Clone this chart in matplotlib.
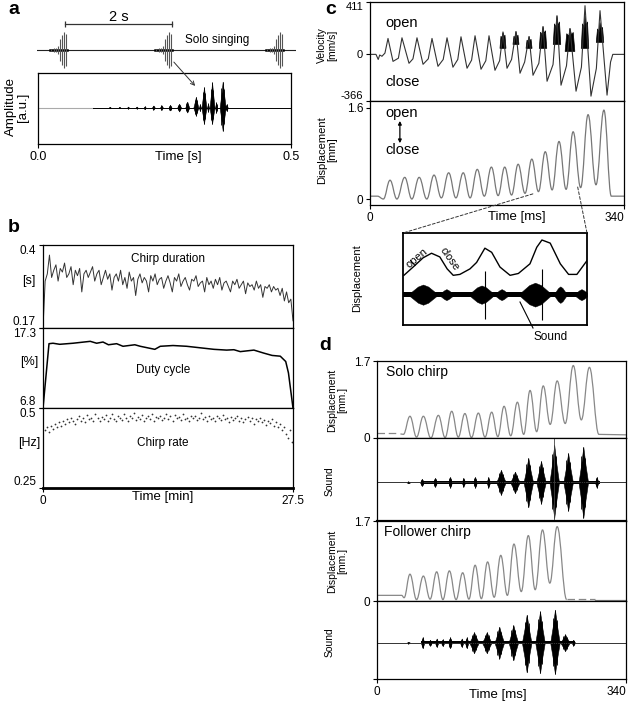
import numpy as np
import matplotlib
matplotlib.use('Agg')
import matplotlib.pyplot as plt
from matplotlib.path import Path
from matplotlib.patches import PathPatch, ConnectionPatch, FancyArrowPatch
from matplotlib.lines import Line2D

plt.rcParams['font.family'] = ['Liberation Sans', 'DejaVu Sans']
plt.rcParams['axes.linewidth'] = 0.9

# ---------------- data ----------------
# a: solo singing (three chirps) and one chirp enlarged
song_onsets = [-0.28, 1.68, 3.74]                       # s
pulse_offsets = [0.02, 0.07, 0.11, 0.15, 0.18, 0.22, 0.26, 0.30]
pulse_heights = [0.05, 0.08, 0.12, 0.2, 0.55, 0.75, 0.9, 0.8]

amp_t = [0.142, 0.161, 0.178, 0.195, 0.211, 0.228, 0.244, 0.261, 0.279, 0.295,
         0.312, 0.320, 0.328, 0.336, 0.344, 0.352, 0.365, 0.373]
amp_up = [0.02, 0.02, 0.03, 0.03, 0.04, 0.06, 0.07, 0.08, 0.11, 0.17,
          0.31, 0.10, 0.59, 0.12, 0.73, 0.15, 0.75, 0.10]
amp_dn = [0.02, 0.02, 0.03, 0.03, 0.04, 0.06, 0.07, 0.08, 0.11, 0.14,
          0.23, 0.10, 0.47, 0.12, 0.47, 0.15, 0.67, 0.10]
amp_hw = [0.002, 0.002, 0.002, 0.002, 0.002, 0.003, 0.003, 0.003, 0.004, 0.004,
          0.005, 0.002, 0.005, 0.002, 0.005, 0.002, 0.006, 0.002]

# b: chirp duration [s], duty cycle [%], chirp rate [Hz] over 27.5 min
chirp_dur = [0.17, 0.30, 0.32, 0.372, 0.31, 0.33, 0.345, 0.30, 0.335, 0.325, 0.35, 0.31,
             0.32, 0.34, 0.29, 0.33, 0.315, 0.335, 0.27, 0.32, 0.33, 0.31, 0.325, 0.34,
             0.30, 0.32, 0.33, 0.29, 0.31, 0.33, 0.305, 0.32, 0.275, 0.31, 0.32, 0.30,
             0.33, 0.29, 0.31, 0.28, 0.325, 0.30, 0.31, 0.26, 0.305, 0.32, 0.295, 0.31,
             0.30, 0.27, 0.315, 0.30, 0.32, 0.29, 0.305, 0.31, 0.28, 0.30, 0.315, 0.295,
             0.27, 0.31, 0.30, 0.32, 0.285, 0.30, 0.31, 0.29, 0.275, 0.305, 0.30, 0.315,
             0.285, 0.295, 0.30, 0.27, 0.31, 0.29, 0.30, 0.28, 0.305, 0.29, 0.31, 0.275,
             0.295, 0.30, 0.285, 0.27, 0.30, 0.29, 0.305, 0.28, 0.29, 0.30, 0.265, 0.295,
             0.285, 0.29, 0.275, 0.30, 0.28, 0.29, 0.255, 0.285, 0.28, 0.29, 0.27, 0.285,
             0.275, 0.28, 0.26, 0.28, 0.245, 0.27, 0.24, 0.25, 0.19]
duty_t = [0, 0.66, 1.1, 1.84, 3.3, 5.2, 5.9, 6.6, 7.2, 8.1, 8.8, 10.1, 10.7, 12.3, 12.9,
          14.3, 15.8, 17.3, 18.8, 20.2, 21.0, 21.7, 23.2, 24.3, 25.2, 26.1, 26.7, 27.0, 27.5]
duty_v = [6.8, 15.24, 15.3, 15.16, 15.3, 15.55, 15.3, 15.46, 15.1, 15.24, 14.9, 15.1, 14.9,
          14.5, 14.9, 15.0, 14.9, 14.7, 14.5, 14.4, 14.45, 14.2, 14.4, 14.0, 13.7, 13.6,
          12.9, 11.4, 6.8]
chirp_rate = [0.43, 0.44, 0.425, 0.445, 0.435, 0.45, 0.44, 0.455, 0.445, 0.46, 0.45, 0.465,
              0.455, 0.47, 0.46, 0.45, 0.465, 0.475, 0.46, 0.47, 0.455, 0.478, 0.465, 0.47,
              0.46, 0.48, 0.468, 0.458, 0.472, 0.465, 0.478, 0.46, 0.47, 0.482, 0.465, 0.458,
              0.475, 0.468, 0.462, 0.48, 0.47, 0.46, 0.476, 0.468, 0.485, 0.462, 0.472, 0.466,
              0.478, 0.46, 0.47, 0.475, 0.465, 0.48, 0.458, 0.472, 0.468, 0.476, 0.462, 0.47,
              0.482, 0.466, 0.474, 0.46, 0.478, 0.468, 0.472, 0.462, 0.48, 0.466, 0.47, 0.458,
              0.476, 0.468, 0.474, 0.462, 0.47, 0.484, 0.465, 0.472, 0.46, 0.476, 0.466, 0.47,
              0.458, 0.474, 0.468, 0.462, 0.478, 0.466, 0.47, 0.456, 0.472, 0.464, 0.468, 0.476,
              0.46, 0.47, 0.455, 0.466, 0.472, 0.46, 0.468, 0.45, 0.465, 0.458, 0.47, 0.455,
              0.462, 0.448, 0.46, 0.452, 0.465, 0.445, 0.455, 0.44, 0.45, 0.43, 0.44, 0.42,
              0.405, 0.43, 0.395]

# c: tegmina velocity [mm/s] and displacement [mm] during one chirp (0-340 ms)
vel_t = [0, 8, 11, 13, 16, 20,
         24.1, 30.8, 38, 42.8, 52.2, 57.5, 62.9, 71.0, 78, 83.0, 91.0, 98, 103.1, 111.0, 117.5,
         121.8, 129.9, 136, 140.6, 148.6, 155, 159.3, 167.3, 173.5, 178.0, 183.4, 189.5,
         195.4, 200.8, 207, 212.9, 218.2, 226, 231.6, 237.0, 245, 250.3, 255.7, 263,
         267.7, 275.8, 283, 287.8, 295.8, 303, 307.9, 317.3, 322, 325, 340]
vel_v = [0, 0, -40, -5, -15, 10,
         125, -55, -30, 130, -70, -35, 130, -78, -35, 125, -94, -40, 130, -101, -40,
         138, -109, -45, 146, -117, -50, 146, -125, -50, 164, -109, -40,
         179, -148, -60, 140, -164, -70, 218, -211, -80, 304, -242, -90,
         203, -289, -100, 382, -328, -110, 343, -320, -60, 0, 0]
noise_t = [178.0, 195.4, 212.9, 231.6, 250.3, 267.7, 287.8, 307.9]
noise_lo = [47, 78, 47, 47, 78, 23, 47, 94]
noise_hi = [179, 179, 140, 218, 300, 203, 300, 250]
noise_w = [8, 8, 8, 10, 10, 13, 10, 10]

disp_t = [0, 10, 17.9, 26.8, 36.0, 46.5, 56.0, 65.8, 76.0, 85.7, 95.5, 105.3, 115.0, 124.8,
          134.0, 143.6, 153.0, 162.5, 171.5, 180.3, 189.5, 198.3, 207.5, 216.6, 225.5,
          234.6, 243.8, 253.0, 262.5, 271.9, 282.0, 291.9, 302.5, 313.1, 323, 340]
disp_v = [0.05, 0.05, 0.0, 0.33, 0.0, 0.38, 0.0, 0.38, 0.0, 0.42, 0.02, 0.46, 0.02, 0.46,
          0.02, 0.52, 0.05, 0.56, 0.06, 0.56, 0.07, 0.61, 0.10, 0.70, 0.13, 0.83, 0.16,
          1.01, 0.17, 1.18, 0.20, 1.48, 0.25, 1.56, 0.05, 0.05]

# c inset (arbitrary units 0-100)
ins_disp_x = [0.5, 5.5, 10.9, 15.5, 20, 24, 27.3, 30.9, 36.4, 40, 44.5, 48.2, 52.7, 58.2,
              62.7, 69, 72.7, 75.5, 80, 85.5, 90, 94.5, 100]
ins_disp_y = [54, 63, 73, 78, 74, 61, 54, 55, 61, 68, 83.5, 79, 63, 54, 56, 66.5, 84.5,
              92.4, 89, 66.5, 55, 55, 70]
ins_burst_c = [10.9, 23.6, 42.7, 53.6, 71.8, 85.5, 97]
ins_burst_hw = [7, 3, 6, 3, 8, 3, 3]
ins_burst_a = [11, 6, 10, 6, 13, 9, 6]
ins_spike_x = [44.5, 75.5]
ins_spike_a = [26, 28]

# d: solo and follower chirps
solo_t = [32, 36, 45, 54, 63.3, 73.5, 83.8, 93, 102, 111, 120, 129, 138.4, 147.5, 156.6, 165,
          173.5, 182.6, 191.7, 200.3, 209, 218, 227, 236.5, 246, 257, 268, 279, 290, 303, 340]
solo_v = [0.09, 0.08, 0.48, 0.02, 0.48, 0.0, 0.50, 0.01, 0.59, 0.02, 0.54, 0.01, 0.55, 0.02,
          0.57, 0.03, 0.70, 0.05, 0.79, 0.08, 1.05, 0.14, 1.15, 0.30, 1.26, 0.32, 1.60, 0.40,
          1.56, 0.08, 0.07]
solo_pre = 0.11
solo_snd_t = [42.8, 61.2, 79.4, 99.9, 118, 134, 152, 169.3, 188.4, 206.6, 224, 242, 261,
              281.7, 300]
solo_snd_up = [0.02, 0.08, 0.10, 0.12, 0.10, 0.12, 0.12, 0.28, 0.24, 0.55, 0.48, 0.84, 0.66,
               0.80, 0.12]
solo_snd_dn = [0.02, 0.08, 0.10, 0.12, 0.10, 0.12, 0.12, 0.28, 0.24, 0.56, 0.48, 0.80, 0.64,
               0.80, 0.12]

fol_t = [0, 33.7, 37, 45, 54, 63.3, 72.5, 81.5, 90, 98.8, 108, 117, 125.5, 134, 142.5, 151,
         160, 169, 178, 187, 197, 206.6, 216, 226, 236, 246, 259]
fol_v = [0.12, 0.12, 0.07, 0.57, 0.03, 0.53, 0.04, 0.62, 0.03, 0.64, 0.03, 0.60, 0.04, 0.76,
         0.05, 0.83, 0.08, 0.97, 0.12, 1.21, 0.20, 1.39, 0.24, 1.51, 0.38, 1.58, 0.03]
fol_tail = 0.04
fol_snd_t = [42.8, 62.3, 72.4, 81.5, 89.7, 99.8, 115.7, 122.5, 132.5, 149.9, 167, 186.2,
             204.4, 222.6, 243, 256.8, 268]
fol_snd_up = [0.02, 0.13, 0.07, 0.10, 0.08, 0.13, 0.10, 0.13, 0.25, 0.25, 0.38, 0.42, 0.67,
              0.75, 0.79, 0.20, 0.07]
fol_snd_dn = [0.02, 0.13, 0.07, 0.10, 0.08, 0.13, 0.10, 0.13, 0.25, 0.25, 0.38, 0.42, 0.71,
              0.73, 0.75, 0.20, 0.07]

# ---------------- helpers ----------------
W, H = 634, 703
fig = plt.figure(figsize=(W / 100, H / 100), dpi=100)


def box(l, t, r, b):
    return fig.add_axes([l / W, 1 - b / H, (r - l) / W, (b - t) / H])


def fx(x):
    return x / W


def fy(y):
    return 1 - y / H


def smooth_wave(ax, t, v, **kw):
    # bezier through the read extremes, flat tangent at each one
    verts = [(t[0], v[0])]
    codes = [Path.MOVETO]
    for i in range(1, len(t)):
        d = (t[i] - t[i - 1]) * 0.4
        verts += [(t[i - 1] + d, v[i - 1]), (t[i] - d, v[i]), (t[i], v[i])]
        codes += [Path.CURVE4] * 3
    ax.add_patch(PathPatch(Path(verts, codes), fill=False, **kw))


def spindle(ax, c, hw, up, dn, color='black'):
    xs = [c - hw, c - hw * 0.45, c, c + hw * 0.45, c + hw]
    top = [0, up * 0.5, up, up * 0.5, 0]
    bot = [0, -dn * 0.5, -dn, -dn * 0.5, 0]
    ax.fill_between(xs, bot, top, color=color, lw=0.4)
    ax.vlines([c - hw * 0.4, c, c + hw * 0.4], [-dn * 0.75, -dn, -dn * 0.7],
              [up * 0.75, up, up * 0.7], color=color, lw=0.6)


def edge_labels(ax, ticks, labels):
    ax.set_yticks(ticks)
    ax.set_yticklabels(labels)
    tl = ax.get_yticklabels()
    tl[0].set_va('bottom')
    tl[-1].set_va('top')


def style(ax, size=8.5):
    ax.tick_params(direction='out', length=3, width=0.8, labelsize=size, pad=2)


# ---------------- panel a ----------------
fig.text(fx(8), fy(9), 'a', fontsize=14, fontweight='bold', va='center')
ax_song = box(37, 10, 296, 72)
ax_song.set_xlim(-0.52, 4.3)
ax_song.set_ylim(-1.1, 2.0)
ax_song.axis('off')
ax_song.plot([-0.52, 4.3], [0, 0], color='#222', lw=0.8)
for on in song_onsets:
    ax_song.plot([on, on + 0.31], [0, 0], color='black', lw=1.8)
    for off, h in zip(pulse_offsets, pulse_heights):
        ax_song.vlines(on + off, -h, h, color='#555', lw=0.8)
ax_song.plot([0, 2], [1.3, 1.3], color='#333', lw=0.9)
ax_song.vlines([0, 2], 1.15, 1.45, color='#333', lw=0.9)
ax_song.text(1.0, 1.65, '2 s', ha='center', va='center', fontsize=10.5)
ax_song.text(2.24, 0.5, 'Solo singing', ha='left', va='center', fontsize=8.5)

ax_amp = box(38, 73, 291, 144)
ax_amp.set_xlim(0, 0.5)
ax_amp.set_ylim(-1.05, 1)
ax_amp.plot([0, 0.109], [0, 0], color='#aaa', lw=0.8)
ax_amp.plot([0.109, 0.5], [0, 0], color='black', lw=0.7)
for c, hw, u, d in zip(amp_t, amp_hw, amp_up, amp_dn):
    spindle(ax_amp, c, hw, u, d)
ax_amp.set_yticks([])
ax_amp.set_xticks([0, 0.5])
ax_amp.set_xticklabels(['0.0', '0.5'])
style(ax_amp, 9)
ax_amp.text(0.553, -0.18, 'Time [s]', transform=ax_amp.transAxes, ha='center',
            va='center', fontsize=9.5)
fig.text(fx(17), fy(107), 'Amplitude\n[a.u.]', rotation=90, ha='center', va='center',
         fontsize=9.5, linespacing=1.05)
fig.add_artist(FancyArrowPatch(posA=(fx(172), fy(60)), posB=(fx(197), fy(88)),
                               transform=fig.transFigure, arrowstyle='->',
                               mutation_scale=7, lw=0.7, color='#333'))

# ---------------- panel b ----------------
fig.text(fx(8), fy(227), 'b', fontsize=14, fontweight='bold', va='center')
ax_dur = box(43, 245, 293, 328)
ax_duty = box(43, 328, 293, 408)
ax_rate = box(43, 408, 293, 488)
for ax in (ax_dur, ax_duty, ax_rate):
    ax.set_xlim(0, 27.5)
    style(ax)
ax_dur.plot(np.linspace(0, 27.5, len(chirp_dur)), chirp_dur, color='#333', lw=0.7)
ax_dur.set_ylim(0.17, 0.4)
edge_labels(ax_dur, [0.17, 0.4], ['0.17', '0.4'])
ax_dur.set_xticks([])
ax_dur.text(0.5, 0.83, 'Chirp duration', transform=ax_dur.transAxes, ha='center',
            va='center', fontsize=8.5)

ax_duty.plot(duty_t, duty_v, color='black', lw=1.1)
ax_duty.set_ylim(6.8, 17.3)
edge_labels(ax_duty, [6.8, 17.3], ['6.8', '17.3'])
ax_duty.set_xticks([])
ax_duty.text(0.48, 0.475, 'Duty cycle', transform=ax_duty.transAxes, ha='center',
             va='center', fontsize=8.5)

ax_rate.scatter(np.linspace(0.2, 27.4, len(chirp_rate)), chirp_rate, s=1.6, color='#333',
                lw=0)
ax_rate.set_ylim(0.25, 0.5)
edge_labels(ax_rate, [0.25, 0.5], ['0.25', '0.5'])
ax_rate.set_xticks([0, 27.5])
ax_rate.set_xticklabels(['0', '27.5'])
ax_rate.spines['bottom'].set_linewidth(2)
ax_rate.text(0.48, 0.56, 'Chirp rate', transform=ax_rate.transAxes, ha='center',
             va='center', fontsize=8.5)
ax_rate.text(0.48, -0.11, 'Time [min]', transform=ax_rate.transAxes, ha='center',
             va='center', fontsize=9.5)
for lab, y in (('[s]', 281), ('[%]', 362), ('[Hz]', 443)):
    fig.text(fx(29), fy(y), lab, ha='center', va='center', fontsize=9)

# ---------------- panel c ----------------
fig.text(fx(325), fy(10), 'c', fontsize=14, fontweight='bold', va='center')
ax_vel = box(370, 2, 624, 101)
ax_cd = box(370, 101, 624, 205)
ax_vel.set_xlim(0, 340)
ax_vel.set_ylim(-366, 411)
ax_vel.plot(vel_t, vel_v, color='#333', lw=0.8)
for t, lo, hi, w in zip(noise_t, noise_lo, noise_hi, noise_w):
    ax_vel.fill([t - w / 2, t - w / 3, t - w / 8, t, t + w / 6, t + w / 3, t + w / 2],
                [lo, hi * 0.8, hi * 0.7, hi, hi * 0.75, hi * 0.85, lo],
                color='black', lw=0.5)
edge_labels(ax_vel, [-366, 0, 411], ['-366', '0', '411'])
ax_vel.set_xticks([])
style(ax_vel, 8)
ax_vel.text(20, 246, 'open', ha='left', va='center', fontsize=10.5)
ax_vel.text(20, -217, 'close', ha='left', va='center', fontsize=10.5)

ax_cd.set_xlim(0, 340)
ax_cd.set_ylim(-0.105, 1.72)
smooth_wave(ax_cd, disp_t, disp_v, color='#777', lw=0.9)
ax_cd.set_yticks([0, 1.6])
ax_cd.set_yticklabels(['0', '1.6'])
ax_cd.set_xticks([0, 340])
style(ax_cd, 8.5)
ax_cd.get_xticklabels()[-1].set_ha('right')
ax_cd.text(20, 1.51, 'open', ha='left', va='center', fontsize=10.5)
ax_cd.text(20, 0.86, 'close', ha='left', va='center', fontsize=10.5)
ax_cd.annotate('', xy=(40, 0.98), xytext=(40, 1.37),
               arrowprops=dict(arrowstyle='<|-|>', lw=0.9, color='black',
                               mutation_scale=5, shrinkA=0, shrinkB=0))
ax_cd.text(0.577, -0.12, 'Time [ms]', transform=ax_cd.transAxes, ha='center',
           va='center', fontsize=9.5)
fig.text(fx(327), fy(45), 'Velocity\n[mm/s]', rotation=90, ha='center', va='center',
         fontsize=7.5, linespacing=1.05)
fig.text(fx(327), fy(150), 'Displacement\n[mm]', rotation=90, ha='center', va='center',
         fontsize=8, linespacing=1.05)

ax_in = box(403, 233, 587, 325)
ax_in.set_xlim(0, 100)
ax_in.set_ylim(0, 100)
ax_in.set_xticks([])
ax_in.set_yticks([])
for s in ax_in.spines.values():
    s.set_linewidth(1.3)
ax_in.plot(ins_disp_x, ins_disp_y, color='black', lw=1.0)
ax_in.fill_between([0, 100], [30.5, 30.5], [35.5, 35.5], color='black', lw=0)
for c, hw, a in zip(ins_burst_c, ins_burst_hw, ins_burst_a):
    ax_in.fill_between([c - hw, c - hw * 0.4, c, c + hw * 0.4, c + hw],
                       [33 - 2, 33 - a * 0.8, 33 - a, 33 - a * 0.8, 33 - 2],
                       [33 + 2, 33 + a * 0.8, 33 + a, 33 + a * 0.8, 33 + 2],
                       color='black', lw=0.3)
ax_in.vlines(ins_spike_x, [33 - a for a in ins_spike_a], [33 + a for a in ins_spike_a],
             color='black', lw=0.8)
ax_in.text(7.6, 72.8, 'open', rotation=40, ha='center', va='center', fontsize=8)
ax_in.text(25.5, 71.7, 'close', rotation=-55, ha='center', va='center', fontsize=8)
for xa, ya, xb in ((218, 0.09, 0), (278, 0.21, 1)):
    fig.add_artist(ConnectionPatch(xyA=(xa, ya), coordsA=ax_cd.transData, xyB=(xb, 1),
                                   coordsB=ax_in.transAxes, linestyle=(0, (3, 2)),
                                   lw=0.7, color='#333'))
fig.add_artist(Line2D([fx(520), fx(533)], [fy(302), fy(328)], color='black', lw=0.8))
fig.text(fx(551), fy(337), 'Sound', ha='center', va='center', fontsize=8.5)
fig.text(fx(357), fy(278), 'Displacement', rotation=90, ha='center', va='center',
         fontsize=8)

# ---------------- panel d ----------------
fig.text(fx(319), fy(346), 'd', fontsize=14, fontweight='bold', va='center')
ax_d1 = box(377, 361, 626, 438)
ax_d2 = box(377, 438, 626, 521)
ax_d3 = box(377, 521, 626, 601)
ax_d4 = box(377, 601, 626, 679)
for ax in (ax_d1, ax_d2, ax_d3, ax_d4):
    ax.set_xlim(0, 340)
    ax.set_xticks([])
    style(ax, 8.5)

ax_d1.set_ylim(0, 1.7)
ax_d1.plot([0, 30], [solo_pre, solo_pre], color='#888', lw=0.9, ls=(0, (6, 3)))
smooth_wave(ax_d1, solo_t, solo_v, color='#888', lw=0.9)
ax_d1.set_yticks([0, 1.7])
ax_d1.set_yticklabels(['0', '1.7'])
ax_d1.text(0.035, 0.86, 'Solo chirp', transform=ax_d1.transAxes, ha='left', va='center',
           fontsize=10)

ax_d3.set_ylim(0, 1.7)
smooth_wave(ax_d3, fol_t, fol_v, color='#888', lw=0.9)
ax_d3.plot([259, 297], [fol_tail, fol_tail], color='#888', lw=0.9, ls=(0, (6, 3)))
ax_d3.plot([297, 340], [0.02, 0.02], color='#888', lw=0.9)
ax_d3.set_yticks([0, 1.7])
ax_d3.set_yticklabels(['0', '1.7'])
ax_d3.text(0.03, 0.86, 'Follower chirp', transform=ax_d3.transAxes, ha='left',
           va='center', fontsize=10)
ax_d2.spines['bottom'].set_linewidth(1.6)

for ax, ts, ups, dns, band in ((ax_d2, solo_snd_t, solo_snd_up, solo_snd_dn, (60, 305)),
                               (ax_d4, fol_snd_t, fol_snd_up, fol_snd_dn, (60, 270))):
    ax.set_ylim(-0.87, 1)
    ax.plot([0, 340], [0, 0], color='#333', lw=0.7)
    ax.fill_between(list(band), [-0.035, -0.035], [0.035, 0.035], color='black', lw=0)
    for c, u, d in zip(ts, ups, dns):
        spindle(ax, c, 2.5 if u < 0.2 else 6.5, u, d)
    ax.set_yticks([])

ax_d2.vlines(242, -0.87, 1.0, color='#444', lw=0.6)
ax_d4.set_yticks([-0.87])
ax_d4.set_yticklabels([''])
ax_d4.set_xticks([0, 340])
ax_d4.get_xticklabels()[-1].set_ha('right')
ax_d4.text(0.487, -0.2, 'Time [ms]', transform=ax_d4.transAxes, ha='center', va='center',
           fontsize=9.5)
for y in (400, 561):
    fig.text(fx(337), fy(y), 'Displacement\n[mm.]', rotation=90, ha='center',
             va='center', fontsize=7.5, linespacing=1.05)
for y in (481, 642):
    fig.text(fx(330), fy(y), 'Sound', rotation=90, ha='center', va='center', fontsize=7.5)

fig.savefig('out.png', dpi=100)
